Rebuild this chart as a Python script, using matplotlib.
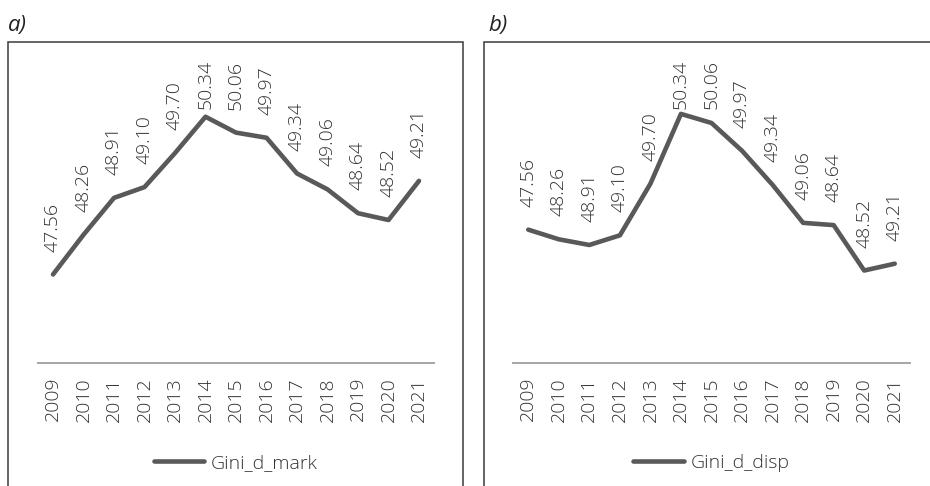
import matplotlib
matplotlib.use("Agg")
import matplotlib.pyplot as plt
from matplotlib.patches import Rectangle

plt.rcParams['font.family'] = ['Open Sans', 'DejaVu Sans']

years = [str(y) for y in range(2009, 2022)]
gini_d_mark = [47.56, 48.26, 48.91, 49.10, 49.70, 50.34, 50.06, 49.97,
               49.34, 49.06, 48.64, 48.52, 49.21]
gini_d_disp = [48.35, 48.18, 48.08, 48.25, 49.16, 50.39, 50.23, 49.74,
               49.14, 48.47, 48.43, 47.63, 47.75]
# data labels printed on panel b
disp_label_text = [f"{v:.2f}" for v in gini_d_mark]
mark_label_text = [f"{v:.2f}" for v in gini_d_mark]

W, H, DPI = 930, 486, 100
fig = plt.figure(figsize=(W / DPI, H / DPI), dpi=DPI)

LINE_C = '#595959'
TEXT_C = '#333333'
AXIS_C = '#a6a6a6'
FS = 14
WEIGHT = 'light'
YMIN, YMAX = 46.0, 51.34


def px_rect(left, right, top, bottom):
    return [left / W, 1 - bottom / H, (right - left) / W, (bottom - top) / H]


def panel(rect, values, labels, name):
    ax = fig.add_axes(rect)
    x = list(range(len(years)))
    ax.plot(x, values, color=LINE_C, lw=3.3, solid_capstyle='round',
            solid_joinstyle='round', label=name)
    ax.set_xlim(-0.5, len(years) - 0.5)
    ax.set_ylim(YMIN, YMAX)
    for s in ('top', 'right', 'left'):
        ax.spines[s].set_visible(False)
    ax.spines['bottom'].set_color(AXIS_C)
    ax.spines['bottom'].set_linewidth(1.4)
    ax.set_yticks([])
    ax.set_xticks(x)
    ax.set_xticklabels(years, rotation=90, fontsize=FS, color=TEXT_C,
                       fontweight=WEIGHT)
    ax.tick_params(axis='x', length=0, pad=10)
    ax.patch.set_alpha(0)
    anns = []
    for xi, v, t in zip(x, values, labels):
        a = ax.annotate(t, (xi, v), xytext=(0, 16.5), textcoords='offset points',
                        rotation=90, ha='center', va='bottom', fontsize=FS,
                        color=TEXT_C, fontweight=WEIGHT, annotation_clip=False)
        anns.append(a)
    ax.legend(loc='center', bbox_to_anchor=(0.5, -0.33), frameon=False,
              handlelength=2.6, handletextpad=0.35, labelcolor=TEXT_C,
              prop={'size': FS, 'weight': WEIGHT})
    return ax, anns


ax_a, anns_a = panel(px_rect(37.75, 434.25, 60, 363), gini_d_mark,
                     mark_label_text, 'Gini_d_mark')
ax_b, anns_b = panel(px_rect(513, 910, 60, 363), gini_d_disp,
                     disp_label_text, 'Gini_d_disp')

# panel frames
for left, right in ((8, 463), (484, 1000)):
    fig.add_artist(Rectangle((left / W, -0.2), (right - left) / W,
                             1.2 - 42 / H, transform=fig.transFigure,
                             fill=False, edgecolor='#3a3a3a', lw=1.1))

fig.text(8 / W, 1 - 31 / H, 'a)', fontsize=16, style='italic', color='#222222')
fig.text(488 / W, 1 - 31 / H, 'b)', fontsize=16, style='italic', color='#222222')

# keep data labels inside the plotting area
fig.canvas.draw()
r = fig.canvas.get_renderer()
for ax, anns in ((ax_a, anns_a), (ax_b, anns_b)):
    top = ax.get_window_extent(r).y1
    for a in anns:
        bb = a.get_window_extent(r)
        if bb.y1 > top:
            excess = bb.y1 - top
            a.xyann = (0, a.xyann[1] - excess * 72 / DPI)

fig.savefig('out.png', dpi=DPI)
